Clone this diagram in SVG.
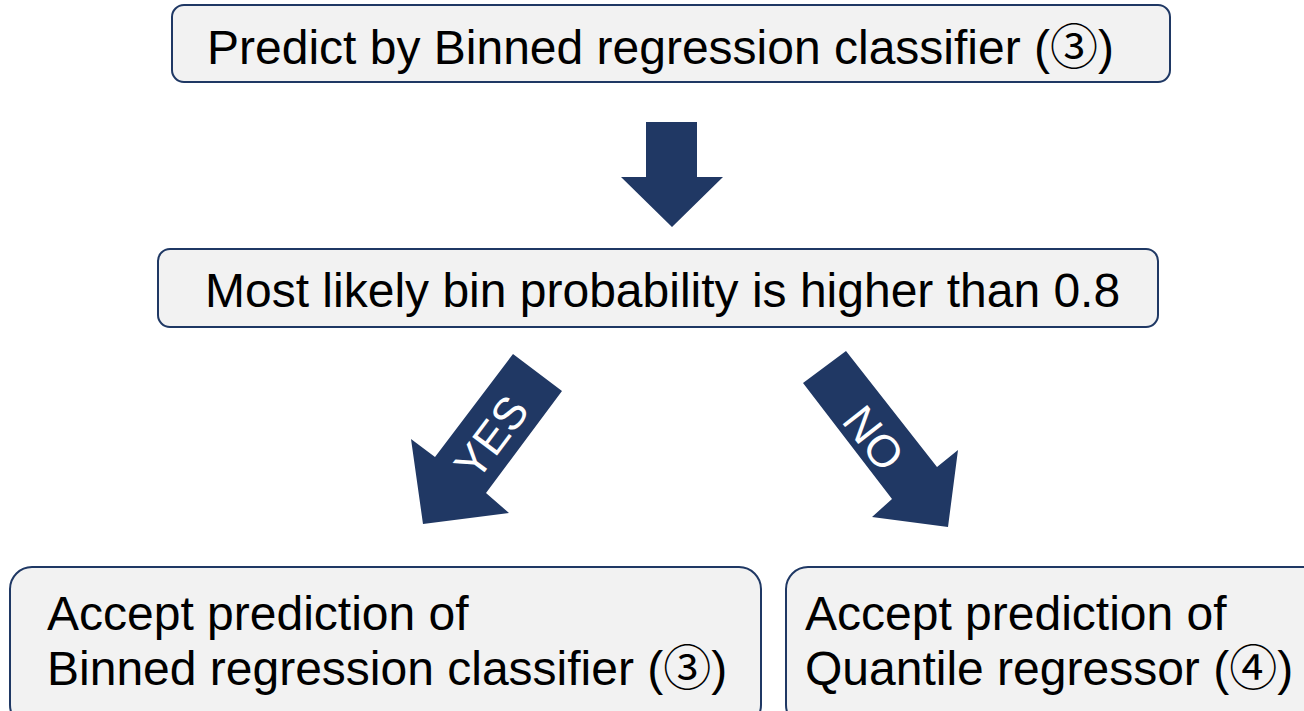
<svg xmlns="http://www.w3.org/2000/svg" width="1304" height="711" viewBox="0 0 1304 711">
<style>
.box{fill:#F2F2F2;stroke:#1F3864;stroke-width:2}
.t{font-family:"Liberation Sans","Noto Sans CJK JP",sans-serif;font-size:48px;fill:#000}
.arr{fill:#203864}
.lbl{font-family:"Liberation Sans",sans-serif;font-size:45px;fill:#fff}
</style>
<rect width="1304" height="711" fill="#fff"/>
<g id="n1">
<rect class="box" x="172" y="5" width="998" height="77" rx="12"/>
<text class="t" x="207" y="64">Predict by Binned regression classifier (③)</text>
</g>
<g id="n2">
<rect class="box" x="158" y="249" width="1000" height="78" rx="12"/>
<text class="t" x="205" y="307">Most likely bin probability is higher than 0.8</text>
</g>
<g id="n3">
<rect class="box" x="10" y="567" width="751" height="160" rx="22"/>
<text class="t" x="47" y="630">Accept prediction of</text>
<text class="t" x="47" y="685">Binned regression classifier (③)</text>
</g>
<g id="n4">
<rect class="box" x="786" y="567" width="540" height="160" rx="22"/>
<text class="t" x="805" y="630">Accept prediction of</text>
<text class="t" x="805" y="685">Quantile regressor (④)</text>
</g>
<g id="connectors">
<polygon class="arr" points="646,122 697,122 697,177 723,177 672,227 621,177 646,177"/>
<polygon class="arr" points="513,354 562,391 486,493 509,513 423,524 411,439 435,457"/>
<text class="lbl" transform="translate(491,437) rotate(-53)" text-anchor="middle" dy="16">YES</text>
<polygon class="arr" points="846,351 937,467 958,450 948,527 872,517 892,499 803,383"/>
<text class="lbl" transform="translate(874,438) rotate(52)" text-anchor="middle" dy="16">NO</text>
</g>
</svg>
